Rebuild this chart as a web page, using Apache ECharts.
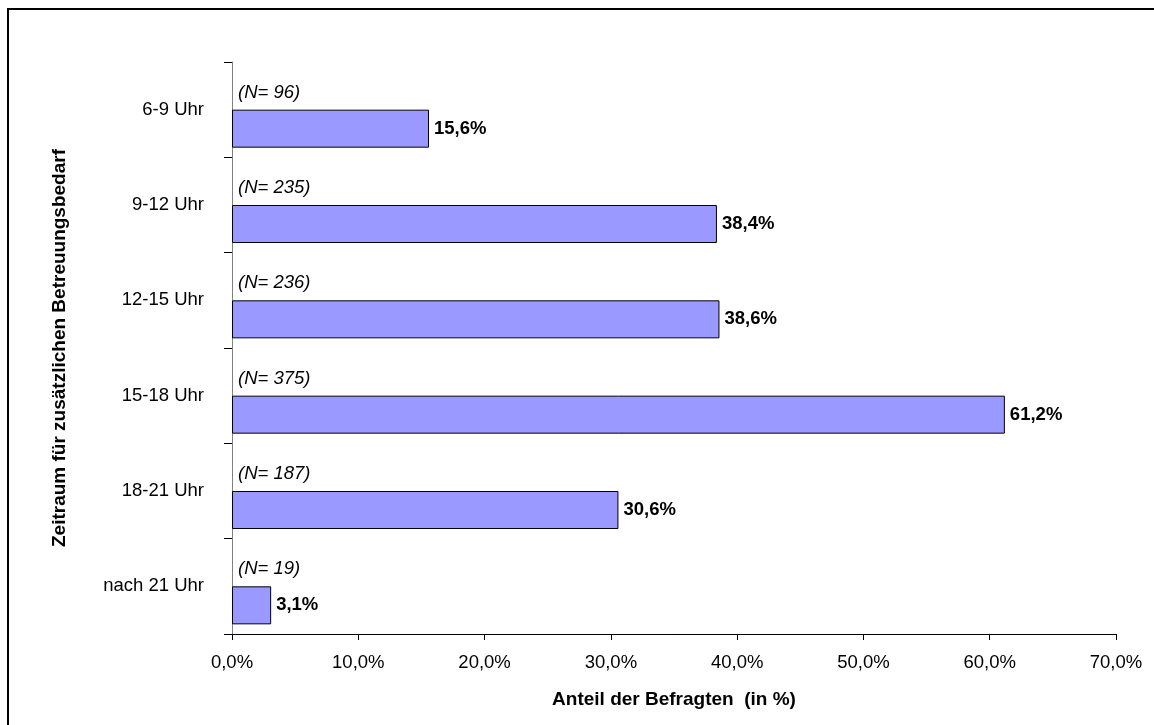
<!DOCTYPE html>
<html>
<head>
<meta charset="utf-8">
<script src="https://cdn.jsdelivr.net/npm/echarts@6/dist/echarts.min.js"></script>
<style>html,body{margin:0;padding:0;background:#fff}#c{width:1154px;height:725px}</style>
</head>
<body>
<div id="c"></div>
<script>
const categories = ['6-9 Uhr', '9-12 Uhr', '12-15 Uhr', '15-18 Uhr', '18-21 Uhr', 'nach 21 Uhr'];
const shares = [15.6, 38.4, 38.6, 61.2, 30.6, 3.1];
const counts = [96, 235, 236, 375, 187, 19];
const xTicks = [0, 10, 20, 30, 40, 50, 60, 70];

const FONT = 'Liberation Sans, Arial, sans-serif';
const FS = 18.5;
const FT = 19;
const fmt = v => v.toFixed(1).replace('.', ',') + '%';

const chart = echarts.init(document.getElementById('c'), null, {renderer: 'canvas'});
chart.setOption({
  animation: false,
  backgroundColor: '#fff',
  textStyle: {fontFamily: FONT},
  graphic: [{
    type: 'rect', shape: {x: 8, y: 9, width: 1170, height: 740},
    style: {fill: 'none', stroke: '#000', lineWidth: 2}, silent: true
  }],
  grid: {left: 232, right: 38, top: 62, bottom: 91},
  xAxis: {
    type: 'value', min: xTicks[0], max: xTicks[xTicks.length - 1], interval: 10,
    name: 'Anteil der Befragten  (in %)', nameLocation: 'middle', nameGap: 56,
    nameTextStyle: {fontFamily: FONT, fontSize: FT, fontWeight: 'bold', color: '#000'},
    axisLine: {show: true, lineStyle: {color: '#000', width: 1}},
    axisTick: {show: true, length: 6, lineStyle: {color: '#000'}},
    axisLabel: {formatter: fmt, fontFamily: FONT, fontSize: FS, color: '#000', margin: 19},
    splitLine: {show: false}
  },
  yAxis: {
    type: 'category', data: categories, inverse: true,
    name: 'Zeitraum für zusätzlichen Betreuungsbedarf', nameLocation: 'middle', nameGap: 163,
    nameTextStyle: {fontFamily: FONT, fontSize: FT, fontWeight: 'bold', color: '#000'},
    axisLine: {show: true, lineStyle: {color: '#808080', width: 1}},
    axisTick: {show: true, length: 8, lineStyle: {color: '#000'}},
    axisLabel: {fontFamily: FONT, fontSize: FS, color: '#000', margin: 28}
  },
  series: [
    {
      type: 'bar', name: 'N', data: counts.map(() => 0), barWidth: 38, barGap: '0%',
      itemStyle: {color: 'transparent'},
      label: {show: true, position: 'right', distance: 6, offset: [0, 2],
        formatter: p => '(N= ' + counts[p.dataIndex] + ')',
        fontFamily: FONT, fontSize: FS, fontStyle: 'italic', color: '#000'},
      silent: true
    },
    {
      type: 'bar', name: 'Anteil', data: shares, barWidth: 38, barGap: '0%',
      itemStyle: {color: '#9999FF', borderColor: '#000', borderWidth: 1},
      label: {show: true, position: 'right', distance: 5,
        formatter: p => fmt(p.value),
        fontFamily: FONT, fontSize: FS, fontWeight: 'bold', color: '#000'}
    }
  ]
});
</script>
</body>
</html>
